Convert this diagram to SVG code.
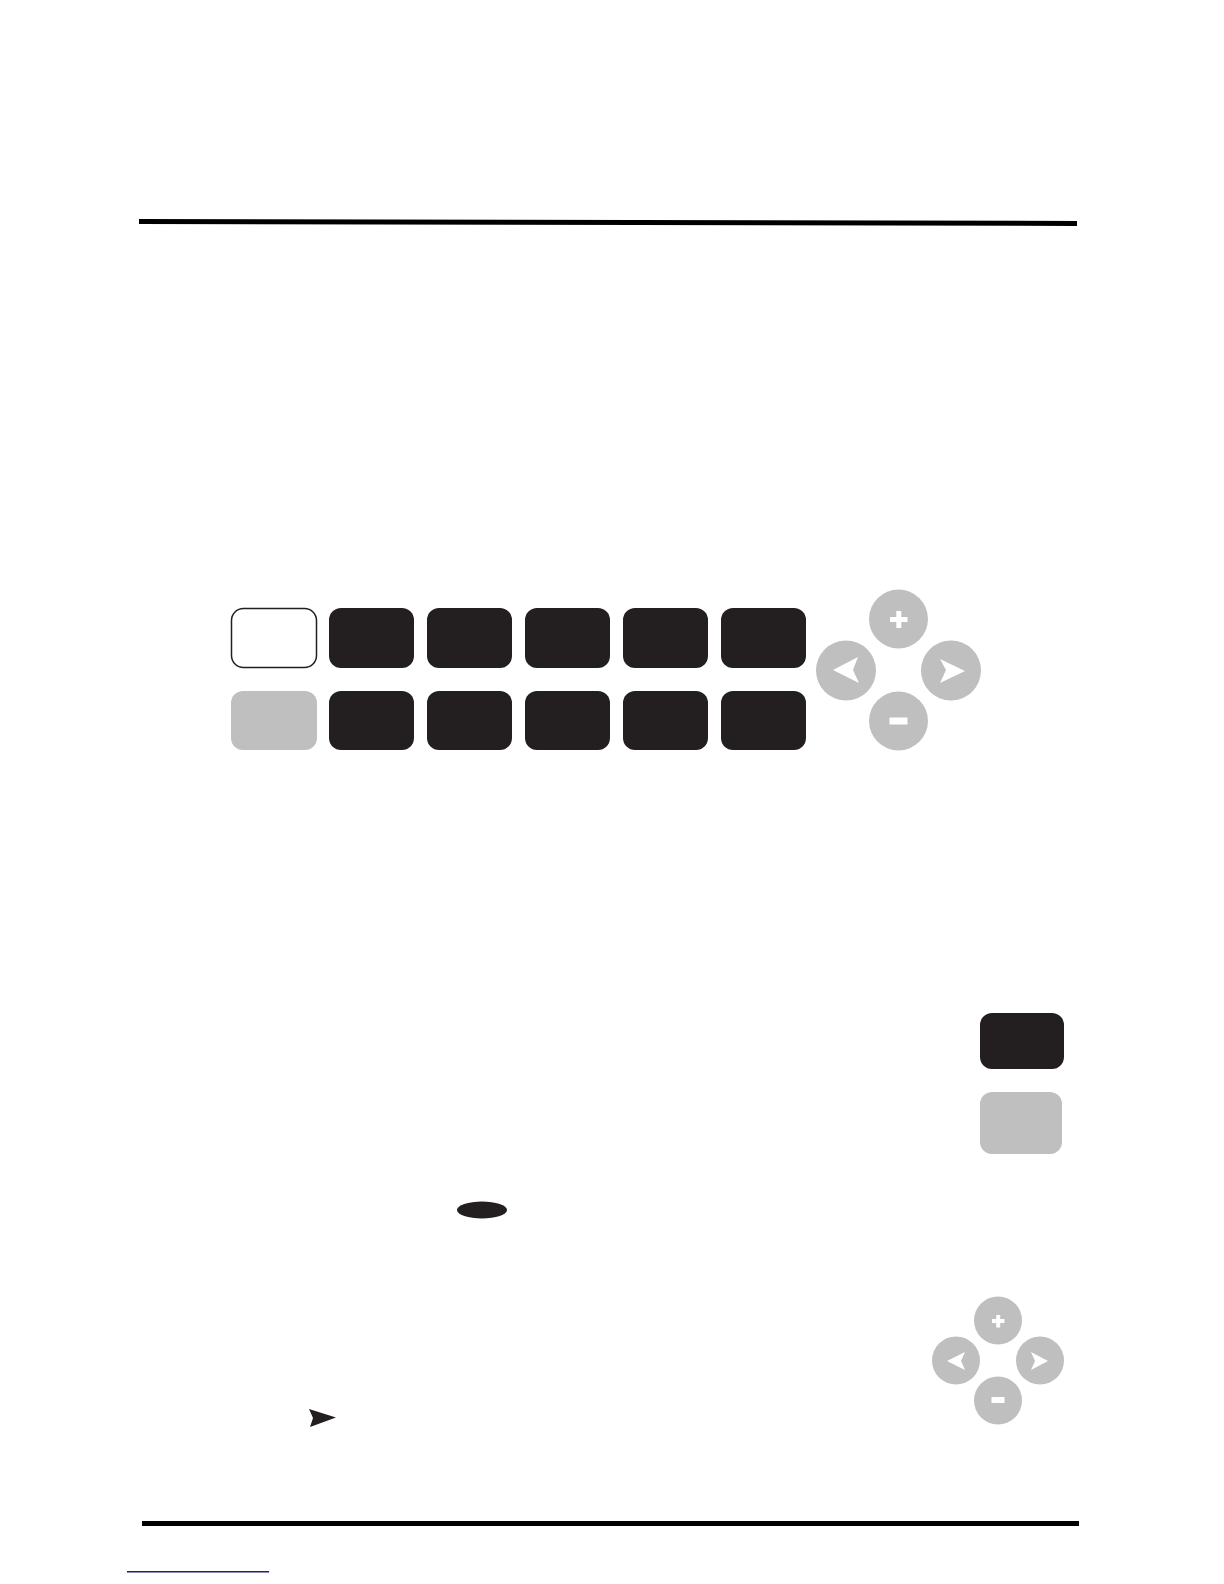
<svg xmlns="http://www.w3.org/2000/svg" width="1224" height="1584" viewBox="0 0 1224 1584">
<style>
.blk{fill:#231f20}
.wht{fill:#ffffff;stroke:#231f20;stroke-width:1.5}
.gry{fill:#bfbfbf}
.circ{fill:#bfbfbf}
.sym{fill:#ffffff}
.rule{fill:#000000}
</style>
<rect width="1224" height="1584" fill="#ffffff"/>
<g id="rules">
<polygon class="rule" points="139,219 1077,221 1077,226 139,224"/>
<rect class="rule" x="142" y="1521" width="937" height="5"/>
<rect x="127" y="1571" width="142" height="1.5" fill="#1f1f7a"/>
</g>
<g id="keypad-row1">
<rect id="k1" class="wht" x="231.5" y="608.5" width="85" height="59" rx="12"/>
<rect id="k2" class="blk" x="329" y="608" width="85" height="60" rx="12"/>
<rect id="k3" class="blk" x="427" y="608" width="85" height="60" rx="12"/>
<rect id="k4" class="blk" x="525" y="608" width="85" height="60" rx="12"/>
<rect id="k5" class="blk" x="623" y="608" width="85" height="60" rx="12"/>
<rect id="k6" class="blk" x="721" y="608" width="85" height="60" rx="12"/>
</g>
<g id="keypad-row2">
<rect id="k7" class="gry" x="231" y="691" width="86" height="59" rx="12"/>
<rect id="k8" class="blk" x="329" y="691" width="85" height="59" rx="12"/>
<rect id="k9" class="blk" x="427" y="691" width="85" height="59" rx="12"/>
<rect id="k10" class="blk" x="525" y="691" width="85" height="59" rx="12"/>
<rect id="k11" class="blk" x="623" y="691" width="85" height="59" rx="12"/>
<rect id="k12" class="blk" x="721" y="691" width="85" height="59" rx="12"/>
</g>
<g id="dpad-large">
<g id="dl-plus"><circle class="circ" cx="898.5" cy="619" r="29.5"/>
<rect class="sym" x="890" y="617" width="17.5" height="5"/><rect class="sym" x="896.3" y="611" width="5" height="17"/></g>
<g id="dl-left"><circle class="circ" cx="846" cy="670.5" r="30"/>
<polygon class="sym" points="833,670 858,657 853,670 859,683"/></g>
<g id="dl-right"><circle class="circ" cx="951" cy="670.5" r="30"/>
<polygon class="sym" points="965,671 940,659 946,670 940,683"/></g>
<g id="dl-minus"><circle class="circ" cx="898.5" cy="721" r="29.5"/>
<rect class="sym" x="889.5" y="717.5" width="18" height="7"/></g>
</g>
<g id="side-keys">
<rect id="sk1" class="blk" x="980" y="1013" width="84" height="56" rx="12"/>
<rect id="sk2" class="gry" x="980" y="1092" width="82" height="62" rx="12"/>
</g>
<g id="oval">
<ellipse class="blk" cx="482" cy="1210" rx="25" ry="8.5"/>
</g>
<g id="dpad-small">
<g id="ds-plus"><circle class="circ" cx="998" cy="1320.5" r="24"/>
<rect class="sym" x="992" y="1319" width="12.5" height="4"/><rect class="sym" x="996.2" y="1315" width="4" height="12.5"/></g>
<g id="ds-left"><circle class="circ" cx="956" cy="1360.5" r="24"/>
<polygon class="sym" points="947,1361 965,1352 961,1361 965,1370"/></g>
<g id="ds-right"><circle class="circ" cx="1040" cy="1360.5" r="24"/>
<polygon class="sym" points="1048,1361 1031,1352 1035,1361 1031,1370"/></g>
<g id="ds-minus"><circle class="circ" cx="998" cy="1400.5" r="24"/>
<rect class="sym" x="991.5" y="1397" width="13" height="6"/></g>
</g>
<g id="arrow-icon">
<polygon class="blk" points="309,1409 336,1417.5 310,1427 313,1418"/>
</g>
<g id="connectors"></g>
</svg>
